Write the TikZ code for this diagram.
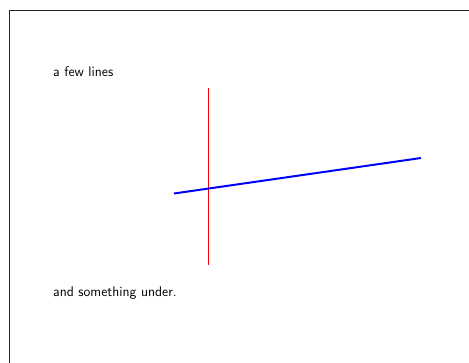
\documentclass[tikz,border=0pt]{standalone}
\begin{document}
\begin{tikzpicture}[x=1pt,y=-1pt,
  label text/.style={anchor=base west,inner sep=0pt,font=\sffamily\fontsize{14}{16}\selectfont},
  vline/.style={draw=red,line width=1.3pt},
  bline/.style={draw=blue,line width=2pt}]
\useasboundingbox (0,0) rectangle (469,362);
\draw[black!85,line width=1pt] (9.5,10.5) rectangle (500,400);
\node[label text] (t1) at (53,76) {a few lines};
\node[label text] (t2) at (53,296) {and something under.};
\coordinate (r1) at (208.5,88);
\coordinate (r2) at (208.5,265);
\coordinate (b1) at (174,193.5);
\coordinate (b2) at (421,158);
\path[vline] (r1) -- (r2);
\path[bline] (b1) -- (b2);
\end{tikzpicture}
\end{document}
